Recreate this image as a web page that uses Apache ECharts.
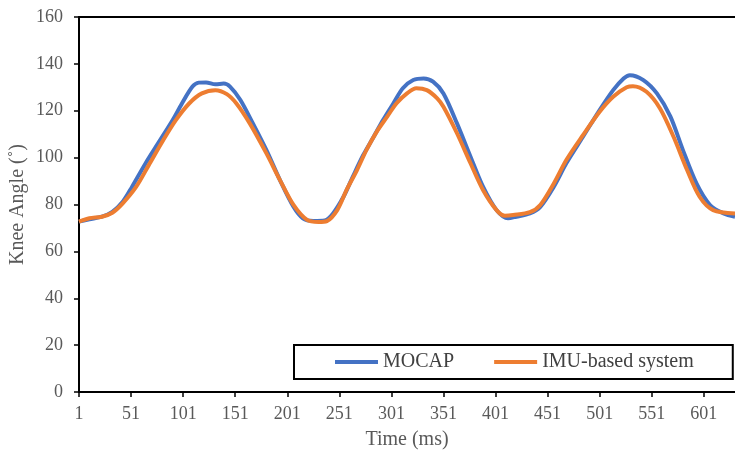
<!DOCTYPE html>
<html>
<head>
<meta charset="utf-8">
<script src="https://cdn.jsdelivr.net/npm/echarts@6/dist/echarts.min.js"></script>
<style>
  html, body { margin: 0; padding: 0; background: #fff; }
  #main { width: 735px; height: 450px; }
</style>
</head>
<body>
<div id="main"></div>
<script>
// knee angle curves, [sample, degrees]
var mocap = [
  [1, 72.7], [11, 73.7], [23, 74.8], [33, 76.9], [43, 81.2], [52, 87.6], [65, 97.6],
  [78, 106.8], [91, 116], [100, 123.2], [110, 130.3], [116, 132], [123, 132.1],
  [132, 131.3], [140, 131.6], [146, 130.3], [156, 124.6], [168, 114.6], [181, 103.2],
  [194, 90.4], [207, 79], [216, 74.1], [226, 73], [237, 73.2], [245, 76.2], [255, 83.3],
  [264, 91.9], [274, 101.1], [284, 108.9], [293, 116], [303, 123.2], [312, 129.6],
  [322, 133.1], [332, 133.8], [341, 132.4], [351, 127.4], [364, 114.6], [377, 100.4],
  [389, 87.6], [402, 77.6], [413, 74.1], [421, 74.8], [434, 76.2], [444, 79], [457, 87.6],
  [469, 97.6], [485, 108.9], [501, 120.3], [514, 128.8], [524, 133.8], [530, 135.2],
  [543, 133.1], [556, 127.4], [569, 117.5], [581, 103.2], [594, 89], [607, 79.8],
  [620, 76.2], [631, 74.8]
];
var imu = [
  [1, 72.7], [11, 74.1], [23, 74.8], [33, 76.5], [43, 80.5], [56, 87.6], [68, 96.8],
  [81, 106.8], [94, 116], [107, 123.2], [119, 127.4], [132, 128.8], [143, 127.1],
  [152, 123.2], [165, 114.6], [181, 101.8], [194, 90.4], [207, 79.8], [220, 73.4],
  [231, 72.5], [239, 72.9], [249, 77.6], [258, 86.2], [268, 94.7], [277, 103.2],
  [287, 111.1], [297, 117.5], [306, 123.2], [316, 127.4], [325, 129.6], [335, 128.8],
  [345, 125.3], [351, 121.7], [364, 110.4], [377, 97.6], [389, 86.2], [402, 77.6],
  [410, 75.2], [418, 75.5], [434, 76.7], [444, 79.8], [457, 89], [469, 99], [485, 109.6],
  [501, 119.6], [514, 126], [527, 130], [533, 130.5], [546, 128.1], [559, 121],
  [572, 108.9], [585, 94.7], [597, 83.3], [610, 77.6], [631, 76.2]
];
var seriesNames = ['MOCAP', 'IMU-based system'];

var myChart = echarts.init(document.getElementById('main'));
var serif = 'Liberation Serif';

var option = {
  animation: false,
  grid: { left: 79, right: 0, top: 17, bottom: 58, containLabel: false, outerBoundsMode: 'none' },
  legend: {
    data: seriesNames,
    left: 294,
    top: 345,
    icon: 'rect',
    itemWidth: 43,
    itemHeight: 4,
    itemGap: 40,
    padding: [7, 39, 7, 41],
    borderColor: '#000',
    borderWidth: 2,
    textStyle: { fontFamily: serif, fontSize: 20, color: '#404040' }
  },
  xAxis: [{
    type: 'value',
    min: 1,
    max: 631,
    interval: 50,
    name: 'Time (ms)',
    nameLocation: 'middle',
    nameGap: 38,
    nameMoveOverlap: false,
    nameTextStyle: { fontFamily: serif, fontSize: 20, color: '#595959' },
    axisLine: { lineStyle: { color: '#000', width: 2 } },
    axisTick: { show: true, length: 5, lineStyle: { color: '#000', width: 1.5 } },
    axisLabel: { fontFamily: serif, fontSize: 18, color: '#595959', margin: 13, showMaxLabel: false },
    splitLine: { show: false }
  }, {
    // top border of the plot
    type: 'value',
    position: 'top',
    min: 1,
    max: 631,
    axisLine: { show: true, lineStyle: { color: '#000', width: 2 } },
    axisTick: { show: false },
    axisLabel: { show: false },
    splitLine: { show: false }
  }],
  yAxis: {
    type: 'value',
    min: 0,
    max: 160,
    interval: 20,
    name: 'Knee Angle (˚)',
    nameLocation: 'middle',
    nameGap: 51,
    nameMoveOverlap: false,
    nameTextStyle: { fontFamily: serif, fontSize: 20, color: '#595959' },
    axisLine: { show: true, lineStyle: { color: '#000', width: 2 } },
    axisTick: { show: true, length: 5, lineStyle: { color: '#000', width: 1.5 } },
    axisLabel: { fontFamily: serif, fontSize: 18, color: '#595959', margin: 16 },
    splitLine: { show: false }
  },
  series: [{
    name: seriesNames[0],
    type: 'line',
    data: mocap,
    smooth: 0.3,
    symbol: 'none',
    color: '#4472C4',
    lineStyle: { width: 4 }
  }, {
    name: seriesNames[1],
    type: 'line',
    data: imu,
    smooth: 0.3,
    symbol: 'none',
    color: '#ED7D31',
    lineStyle: { width: 4 }
  }]
};

myChart.setOption(option);
</script>
</body>
</html>
